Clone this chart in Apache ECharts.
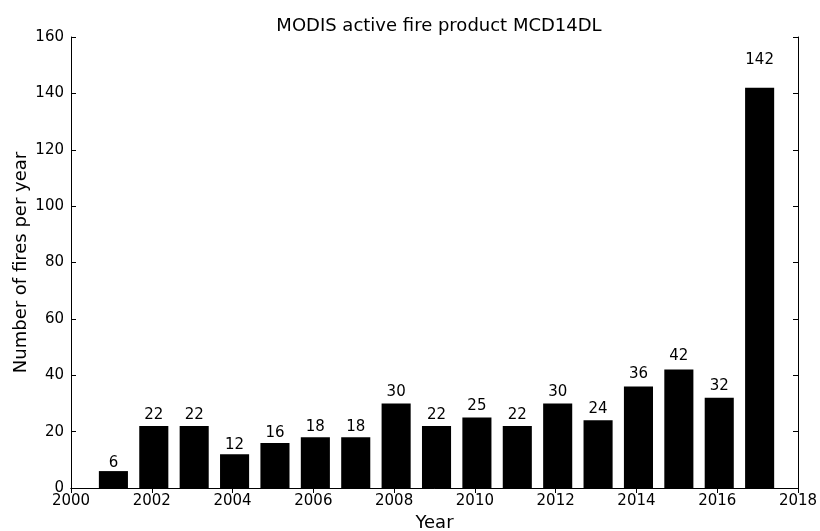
<!DOCTYPE html>
<html><head><meta charset="utf-8">
<script src="https://cdn.jsdelivr.net/npm/echarts@6/dist/echarts.min.js"></script>
<style>html,body{margin:0;padding:0;background:#fff}#c{width:820px;height:531px}</style>
</head><body><div id="c"></div>
<script>
const years = [2001,2002,2003,2004,2005,2006,2007,2008,2009,2010,2011,2012,2013,2014,2015,2016,2017];
const fires = [6,22,22,12,16,18,18,30,22,25,22,30,24,36,42,32,142];
const xTicks = [2000,2002,2004,2006,2008,2010,2012,2014,2016,2018];
const yTicks = [0,20,40,60,80,100,120,140,160];
const titleText = 'MODIS active fire product MCD14DL';
const xName = 'Year';
const yName = 'Number of fires per year';

const FONT = 'DejaVu Sans';
const chart = echarts.init(document.getElementById('c'), null, {renderer:'canvas'});
const axisCommon = {
  axisLine:{show:true, lineStyle:{color:'#000', width:1}},
  axisTick:{show:true, inside:true, length:5, lineStyle:{color:'#000', width:1}},
  splitLine:{show:false},
};
const data = years.map((y,i)=>[y, fires[i]]);
chart.setOption({
  animation:false,
  title:{text:titleText, left:434, textAlign:'center', top:12,
    textStyle:{fontFamily:FONT, fontSize:18, fontWeight:'normal', color:'#000'}},
  grid:{left:71, right:22, top:37, bottom:43, containLabel:false, outerBoundsMode:'none'},
  xAxis:[
    Object.assign({}, axisCommon, {type:'value', position:'bottom', min:xTicks[0], max:xTicks[xTicks.length-1], interval:2,
      name:xName, nameLocation:'middle', nameGap:25,
      nameTextStyle:{fontFamily:FONT, fontSize:18, color:'#000'},
      axisLabel:{show:true, margin:6, fontFamily:FONT, fontSize:15, color:'#000', formatter:v=>String(v)}}),
    Object.assign({}, axisCommon, {type:'value', position:'top', min:xTicks[0], max:xTicks[xTicks.length-1], interval:2,
      axisLabel:{show:false}})
  ],
  yAxis:[
    Object.assign({}, axisCommon, {type:'value', position:'left', min:yTicks[0], max:yTicks[yTicks.length-1], interval:20,
      name:yName, nameLocation:'middle', nameGap:41, nameRotate:90, nameMoveOverlap:false,
      nameTextStyle:{fontFamily:FONT, fontSize:18, color:'#000'},
      axisLabel:{show:true, margin:7, fontFamily:FONT, fontSize:15, color:'#000'}}),
    Object.assign({}, axisCommon, {type:'value', position:'right', min:yTicks[0], max:yTicks[yTicks.length-1], interval:20,
      axisLabel:{show:false}})
  ],
  series:[{
    type:'custom',
    xAxisIndex:0, yAxisIndex:0,
    data:data,
    renderItem:function(params, api){
      const x = api.value(0), v = api.value(1);
      const p0 = api.coord([x-0.31, 0]);
      const p1 = api.coord([x+0.41, v]);
      const pl = api.coord([x+0.05, v*1.05]);
      return {
        type:'group',
        children:[
          {type:'rect', shape:{x:p0[0], y:p1[1], width:p1[0]-p0[0], height:p0[1]-p1[1]},
           style:{fill:'#000'}},
          {type:'text', x:pl[0], y:pl[1],
           style:{text:String(v), fontFamily:FONT, fontSize:15, fill:'#000', align:'center', verticalAlign:'bottom'}}
        ]
      };
    }
  }]
});
</script></body></html>
